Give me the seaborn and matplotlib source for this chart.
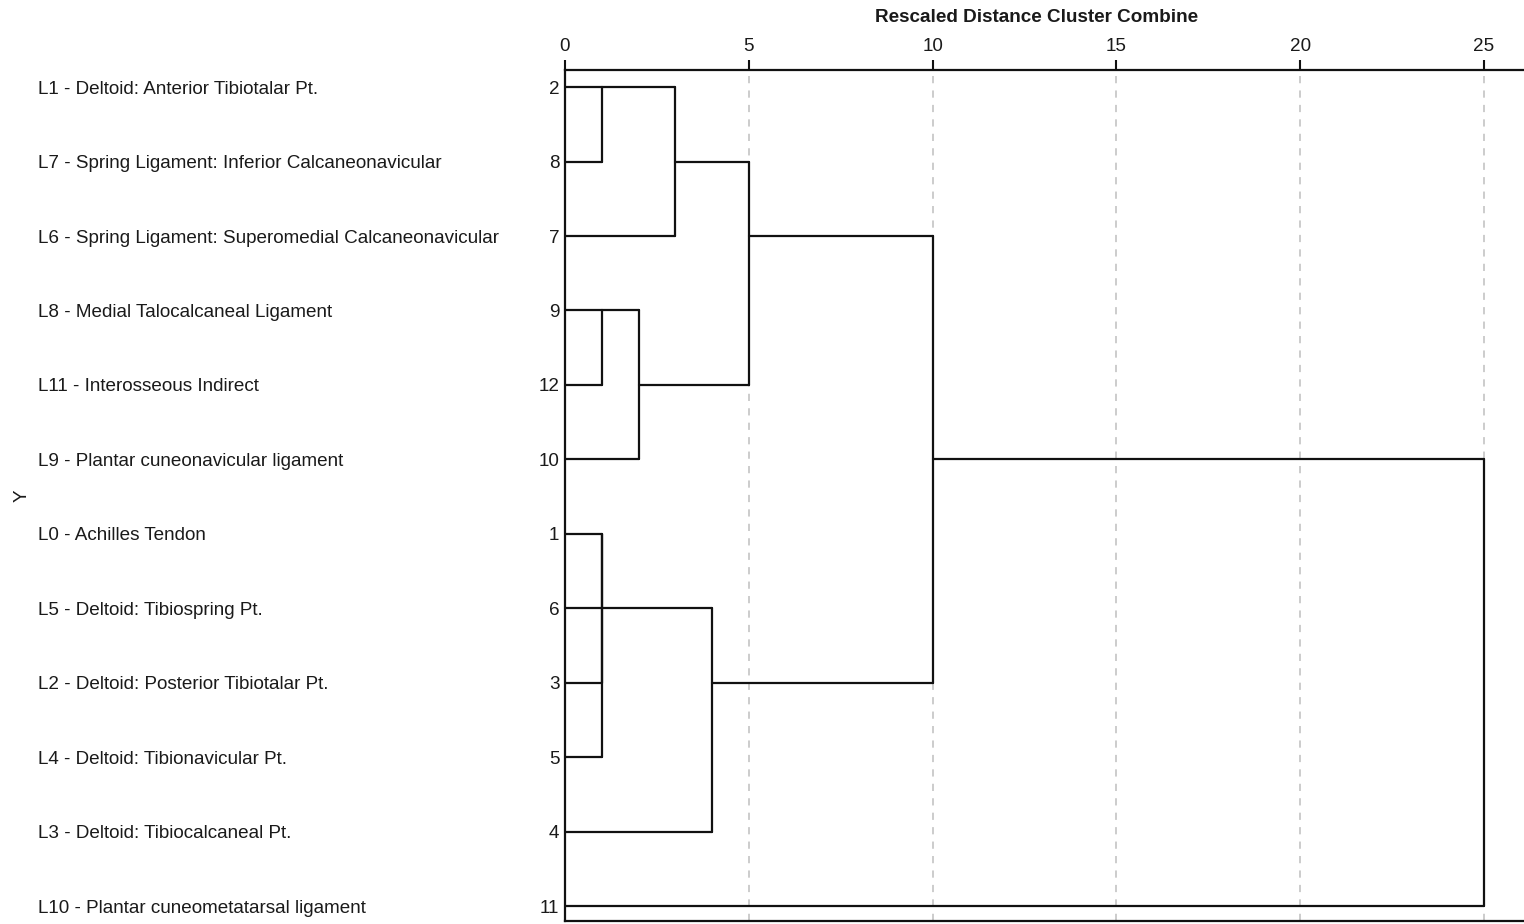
import numpy as np
import pandas as pd
import matplotlib
matplotlib.use("Agg")
import matplotlib.pyplot as plt
import matplotlib.transforms as mtransforms
import seaborn as sns

# Leaves in dendrogram order (top to bottom)
leaf_labels = [
    "L1 - Deltoid: Anterior Tibiotalar Pt.",
    "L7 - Spring Ligament: Inferior Calcaneonavicular",
    "L6 - Spring Ligament: Superomedial Calcaneonavicular",
    "L8 - Medial Talocalcaneal Ligament",
    "L11 - Interosseous Indirect",
    "L9 - Plantar cuneonavicular ligament",
    "L0 - Achilles Tendon",
    "L5 - Deltoid: Tibiospring Pt.",
    "L2 - Deltoid: Posterior Tibiotalar Pt.",
    "L4 - Deltoid: Tibionavicular Pt.",
    "L3 - Deltoid: Tibiocalcaneal Pt.",
    "L10 - Plantar cuneometatarsal ligament",
]
case_numbers = [2, 8, 7, 9, 12, 10, 1, 6, 3, 5, 4, 11]

# Agglomeration steps: ids 0..11 are leaves (rows), each step creates id 12, 13, ...
merge_left = [0, 12, 3, 14, 13, 6, 17, 18, 19, 16, 21]
merge_right = [1, 2, 4, 5, 15, 7, 8, 9, 10, 20, 11]
merge_distance = [1, 3, 1, 2, 5, 1, 1, 1, 4, 10, 25]

x_ticks = [0, 5, 10, 15, 20, 25]

# Build dendrogram segments
n = len(leaf_labels)
pos_x = {i: 0.0 for i in range(n)}
members = {i: [i] for i in range(n)}
pos_y = {i: float(i) for i in range(n)}
rows = []
seg = 0
for k, (a, b, h) in enumerate(zip(merge_left, merge_right, merge_distance)):
    new = n + k
    for c in (a, b):
        rows += [(seg, pos_x[c], pos_y[c]), (seg, h, pos_y[c])]
        seg += 1
    rows += [(seg, h, pos_y[a]), (seg, h, pos_y[b])]
    seg += 1
    members[new] = members[a] + members[b]
    pos_x[new] = h
    pos_y[new] = float(np.floor(np.mean(members[new])))
segments = pd.DataFrame(rows, columns=["seg", "x", "y"])

sns.set_theme(style="white")
plt.rcParams["font.family"] = ["Liberation Sans", "DejaVu Sans"]
text_color = "#1a1a1a"
fs = 13.6

fig = plt.figure(figsize=(15.24, 9.24), dpi=100)
ax = fig.add_axes([565 / 1524, 3 / 924, 1 - 565 / 1524, (921 - 70) / 924])

sns.lineplot(data=segments, x="x", y="y", units="seg", estimator=None,
             sort=False, color="#111111", linewidth=1.6, ax=ax, legend=False)

ax.set_xlim(0, 26.09)
ax.set_ylim(11.2, -0.23)

ax.xaxis.tick_top()
ax.set_xticks(x_ticks)
ax.set_xticklabels([str(t) for t in x_ticks], fontsize=fs, color=text_color)
ax.tick_params(axis="x", direction="out", length=7, width=1.5, color="#111111",
               pad=4, top=True, bottom=False)
ax.grid(axis="x", color="#c8c8c8", linestyle=(0, (4, 4)), linewidth=1.3)
ax.grid(axis="y", visible=False)

ax.set_yticks(range(n))
ax.set_yticklabels([str(c) for c in case_numbers], fontsize=fs, color=text_color)
ax.tick_params(axis="y", length=0, pad=4)
for t in ax.get_yticklabels():
    t.set_verticalalignment("center_baseline")

for side in ("top", "left", "bottom"):
    ax.spines[side].set_visible(True)
    ax.spines[side].set_color("#111111")
    ax.spines[side].set_linewidth(1.6)
ax.spines["right"].set_visible(False)

ax.set_xlabel("")
ax.set_ylabel("Y", fontsize=fs, color=text_color)
ax.yaxis.set_label_coords((31 - 565) / (1524 - 565), 0.5)

trans = mtransforms.blended_transform_factory(fig.transFigure, ax.transData)
for i, lab in enumerate(leaf_labels):
    ax.text(38 / 1524, i, lab, transform=trans, ha="left", va="center_baseline",
            fontsize=fs, color=text_color)

fig.text(1037 / 1524, 1 - 17 / 924, "Rescaled Distance Cluster Combine",
         ha="center", va="center", fontsize=fs, fontweight="bold", color=text_color)

fig.savefig("out.png", dpi=100, facecolor="white")
